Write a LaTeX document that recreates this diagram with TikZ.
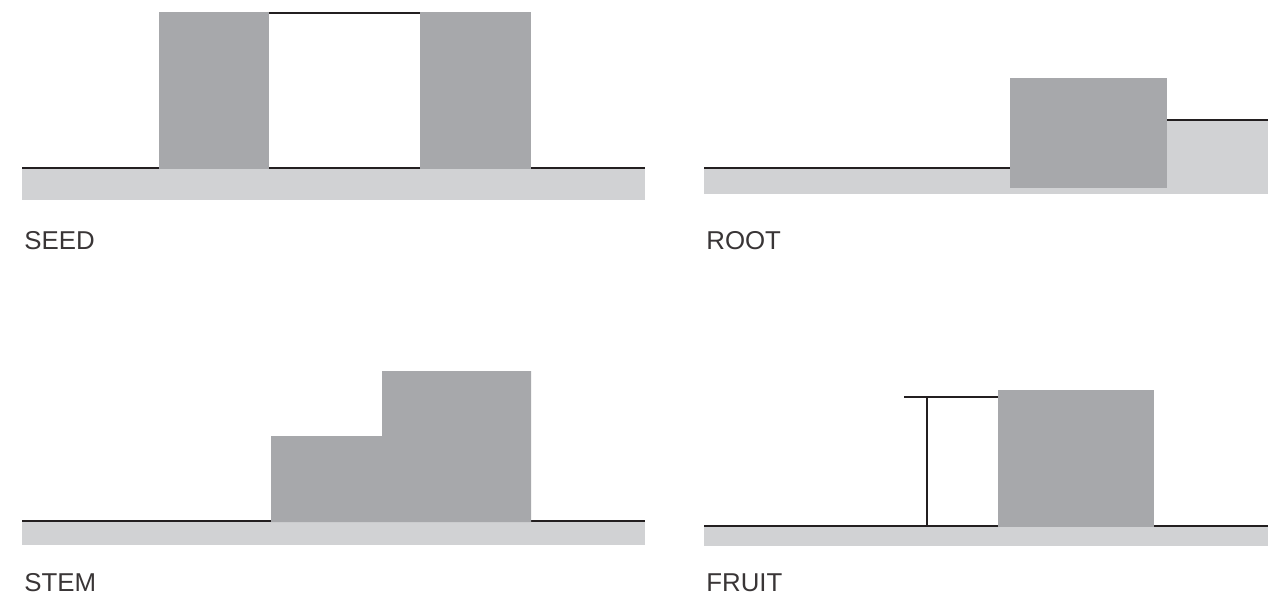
\documentclass[tikz,border=0pt]{standalone}
\usepackage{fontspec}
\setmainfont{Liberation Sans}
\usetikzlibrary{positioning}
\definecolor{blockgray}{HTML}{A7A8AB}
\definecolor{soilgray}{HTML}{D1D2D4}
\definecolor{inkblack}{HTML}{231F20}

\begin{document}
\begin{tikzpicture}[x=0.02cm,y=-0.02cm,
  edge/.style={draw=inkblack,line width=1.1pt},
  tag/.style={anchor=base west,inner sep=0pt,text=inkblack!90,font=\fontsize{14.7}{17}\selectfont}]
\useasboundingbox (0,0) rectangle (1287,596);
%
% SEED
\fill[soilgray] (22,168) rectangle (645,200);
\draw[edge] (22,168) -- (645,168);
\draw[edge] (269,13) -- (420,13);
\fill[blockgray] (159,12) rectangle (269,169);
\fill[blockgray] (420,12) rectangle (531,169);
\node[tag] (seed) at (24,249) {SEED};
%
% ROOT
\fill[soilgray] (704,168) rectangle (1268,194);
\fill[soilgray] (1166,120) rectangle (1268,168);
\draw[edge] (704,168) -- (1010,168);
\draw[edge] (1166,120) -- (1268,120);
\fill[blockgray] (1010,78) rectangle (1167,188);
\node[tag] (root) at (706,249) {ROOT};
%
% STEM
\fill[soilgray] (22,521) rectangle (645,545);
\draw[edge] (22,521) -- (645,521);
\fill[blockgray] (271,522) -- (271,436) -- (382,436) -- (382,371)
  -- (531,371) -- (531,522) -- cycle;
\node[tag] (stem) at (24,591) {STEM};
%
% FRUIT
\fill[soilgray] (704,526) rectangle (1268,546);
\draw[edge] (704,526) -- (1268,526);
\draw[edge] (904,397) -- (998,397);
\draw[edge] (927,397) -- (927,526);
\fill[blockgray] (998,390) rectangle (1154,527);
\node[tag] (fruit) at (706,591) {FRUIT};
\end{tikzpicture}
\end{document}
